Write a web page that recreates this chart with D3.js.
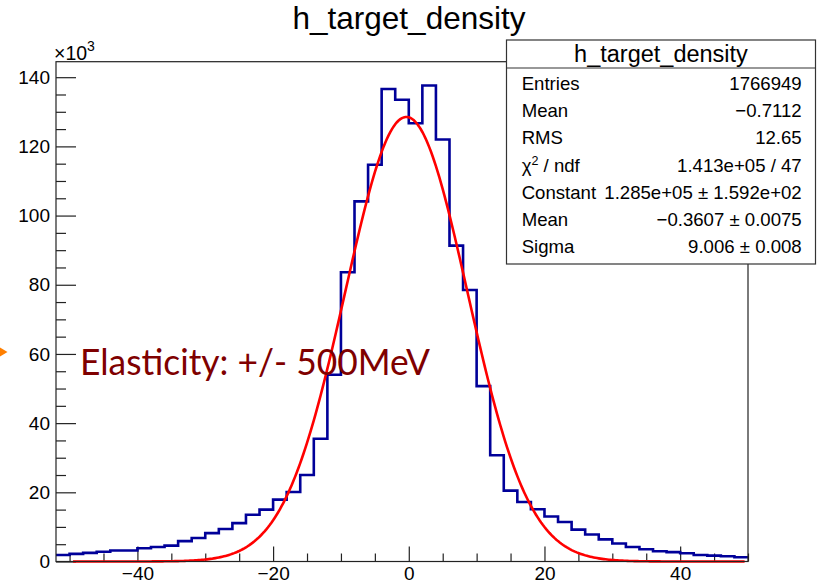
<!DOCTYPE html>
<html>
<head>
<meta charset="utf-8">
<script src="https://cdn.jsdelivr.net/npm/d3@7"></script>
<style>
  html, body { margin: 0; padding: 0; background: #fff; }
  svg { display: block; font-family: "Liberation Sans", Arial, Helvetica, sans-serif; }
</style>
</head>
<body>
<svg id="chart" width="817" height="584"></svg>
<script>
// Histogram binning (x) and bin contents in units of 10^3 entries
const binLow = -52;
const binWidth = 2;
const binCounts = [
  1.9, 2.2, 2.5, 2.8, 3.2, 3.2, 3.85, 4.2, 4.6, 5.9,
  6.8, 8.2, 9.4, 11.1, 13.5, 15.0, 17.9, 20.1, 25.0, 35.5,
  54.0, 83.6, 104.1, 114.7, 136.6, 133.5, 126.7, 137.6, 122.0, 91.3,
  78.5, 50.7, 30.7, 20.5, 17.2, 15.1, 13.0, 11.4, 9.2, 7.8,
  6.4, 5.2, 4.2, 3.55, 2.95, 2.7, 2.4, 1.9, 1.7, 1.5, 1.25
];

// Gaussian fit parameters (Constant in 10^3 entries)
const fitConstant = 128.5;
const fitMean = -0.3607;
const fitSigma = 9.006;
const fitRange = [-49.5, 49.6];

// Axis ticks
const xMajorTicks = [-40, -20, 0, 20, 40];
const xMinorTicks = [-50, -45, -35, -30, -25, -15, -10, -5, 5, 10, 15, 25, 30, 35, 45, 50];
const yMajorTicks = [0, 20, 40, 60, 80, 100, 120, 140];
const yMinorTicks = [5, 10, 15, 25, 30, 35, 45, 50, 55, 65, 70, 75, 85, 90, 95, 105, 110, 115, 125, 130, 135];

// Statistics box
const histName = "h_target_density";
const statLabels = ["Entries", "Mean", "RMS", "χ2 / ndf", "Constant", "Mean", "Sigma"];
const statValues = ["1766949", "−0.7112", "12.65", "1.413e+05 / 47",
                    "1.285e+05 ± 1.592e+02", "−0.3607 ± 0.0075", "9.006 ± 0.008"];

const annotation = "Elasticity: +/- 500MeV";

const svg = d3.select("#chart");

const frame = { left: 56, right: 748, top: 61.7, bottom: 561.5 };
const xMax = binLow + binWidth * binCounts.length;
const yMax = d3.max(binCounts) * 1.05;

const x = d3.scaleLinear().domain([binLow, xMax]).range([frame.left, frame.right]);
const y = d3.scaleLinear().domain([0, yMax]).range([frame.bottom, frame.top]);

svg.append("rect").attr("width", 817).attr("height", 584).attr("fill", "#fff");

// Title
svg.append("text")
  .attr("x", 409).attr("y", 29)
  .attr("text-anchor", "middle")
  .attr("font-size", 31.5)
  .attr("fill", "#000")
  .text(histName);

// Axes
const fmt = d3.format("");
const xAxis = svg.append("g").attr("transform", `translate(0,${frame.bottom})`)
  .call(d3.axisBottom(x).tickValues(xMajorTicks).tickSizeInner(-15).tickSizeOuter(0).tickPadding(5).tickFormat(d => fmt(d)));
const xAxisMinor = svg.append("g").attr("transform", `translate(0,${frame.bottom})`)
  .call(d3.axisBottom(x).tickValues(xMinorTicks).tickSizeInner(-8).tickSizeOuter(0).tickFormat(""));
const yAxis = svg.append("g").attr("transform", `translate(${frame.left},0)`)
  .call(d3.axisLeft(y).tickValues(yMajorTicks).tickSizeInner(-20).tickSizeOuter(0).tickPadding(6));
const yAxisMinor = svg.append("g").attr("transform", `translate(${frame.left},0)`)
  .call(d3.axisLeft(y).tickValues(yMinorTicks).tickSizeInner(-10).tickSizeOuter(0).tickFormat(""));

[xAxis, xAxisMinor, yAxis, yAxisMinor].forEach(g => {
  g.select(".domain").remove();
  g.selectAll(".tick line").attr("stroke", "#222").attr("stroke-width", 1.2);
  g.selectAll(".tick text")
    .attr("font-family", "'Liberation Sans', Arial, sans-serif")
    .attr("font-size", 19).attr("fill", "#000");
});

// Exponent label for y axis
const expo = svg.append("text").attr("x", 54).attr("y", 60).attr("font-size", 19.5).attr("fill", "#000");
expo.append("tspan").text("×10");
expo.append("tspan").attr("dy", -9).attr("font-size", 14).text("3");

// Histogram outline
const steps = binCounts.map((c, i) => [binLow + i * binWidth, c]);
steps.push([xMax, binCounts[binCounts.length - 1]]);
svg.append("path")
  .datum(steps)
  .attr("fill", "none")
  .attr("stroke", "#000099")
  .attr("stroke-width", 2.6)
  .attr("d", d3.line().x(d => x(d[0])).y(d => y(d[1])).curve(d3.curveStepAfter));

// Gaussian fit curve
const fitPts = d3.range(fitRange[0], fitRange[1] + 1e-9, 0.25)
  .map(v => [v, fitConstant * Math.exp(-0.5 * Math.pow((v - fitMean) / fitSigma, 2))]);
svg.append("path")
  .datum(fitPts)
  .attr("fill", "none")
  .attr("stroke", "#ff0000")
  .attr("stroke-width", 2.6)
  .attr("d", d3.line().x(d => x(d[0])).y(d => y(d[1])));

// Frame
svg.append("rect")
  .attr("x", frame.left).attr("y", frame.top)
  .attr("width", frame.right - frame.left).attr("height", frame.bottom - frame.top)
  .attr("fill", "none").attr("stroke", "#222").attr("stroke-width", 1.2);

// Statistics box
const box = { x: 506.5, y: 40, w: 309, h: 224 };
const sb = svg.append("g");
sb.append("rect")
  .attr("x", box.x).attr("y", box.y).attr("width", box.w).attr("height", box.h)
  .attr("fill", "#fff").attr("stroke", "#333").attr("stroke-width", 1.2);
sb.append("line")
  .attr("x1", box.x).attr("x2", box.x + box.w).attr("y1", 68).attr("y2", 68)
  .attr("stroke", "#333").attr("stroke-width", 1.2);
sb.append("text")
  .attr("x", box.x + box.w / 2).attr("y", 62)
  .attr("text-anchor", "middle").attr("font-size", 23.5).attr("fill", "#000")
  .text(histName);

statLabels.forEach((lab, i) => {
  const yy = 90 + i * 27.2;
  const t = sb.append("text").attr("x", 521.7).attr("y", yy).attr("font-size", 18.6).attr("fill", "#000");
  if (lab.startsWith("χ2")) {
    t.append("tspan").text("χ");
    t.append("tspan").attr("dy", -7).attr("font-size", 12.5).text("2");
    t.append("tspan").attr("dy", 7).text(lab.slice(2));
  } else {
    t.text(lab);
  }
  sb.append("text").attr("x", 801.7).attr("y", yy)
    .attr("text-anchor", "end").attr("font-size", 18.6).attr("fill", "#000")
    .text(statValues[i]);
});

// Annotation overlay
svg.append("text")
  .attr("x", 80).attr("y", 375)
  .attr("font-family", "Lato, 'Open Sans', sans-serif")
  .attr("font-size", 37)
  .attr("fill", "#7f0000")
  .attr("textLength", 350).attr("lengthAdjust", "spacingAndGlyphs")
  .text(annotation);

// Small orange pointer at the left edge
svg.append("path")
  .attr("d", "M0,347.5 L7.5,352 L0,356.5 Z")
  .attr("fill", "#ff7f00");
</script>
</body>
</html>
